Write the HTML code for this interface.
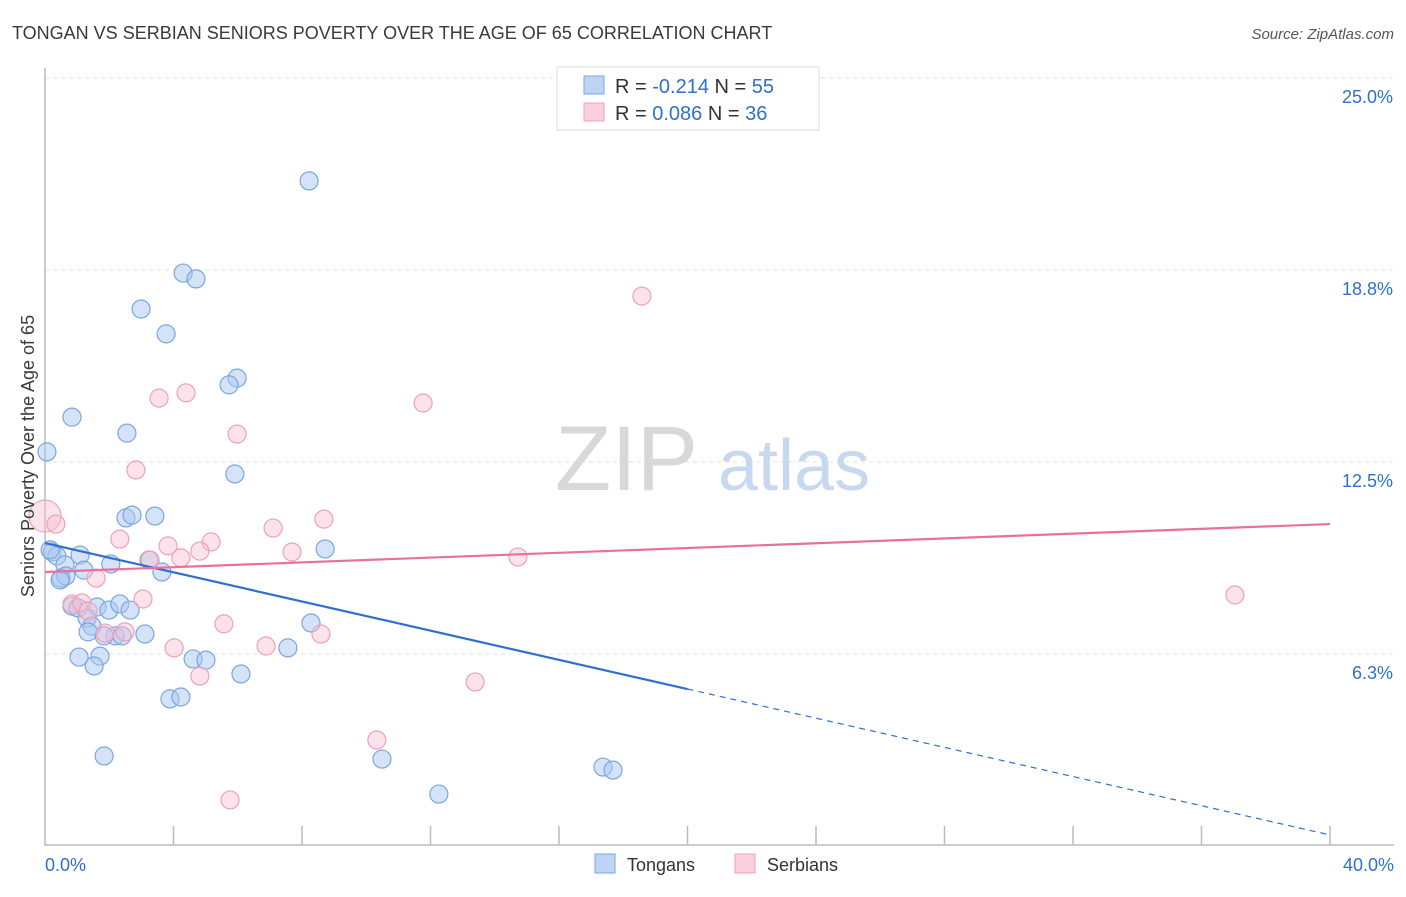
<!DOCTYPE html>
<html><head><meta charset="utf-8">
<style>
body{margin:0;background:#fff;font-family:"Liberation Sans",sans-serif;}
svg text{font-family:"Liberation Sans",sans-serif;}
</style></head>
<body>
<svg id="chart" width="1406" height="892" viewBox="0 0 1406 892" xmlns="http://www.w3.org/2000/svg">
<text x="12" y="39" font-size="18" fill="#3a3a3a">TONGAN VS SERBIAN SENIORS POVERTY OVER THE AGE OF 65 CORRELATION CHART</text>
<text x="1394" y="39" font-size="15" fill="#555" font-style="italic" text-anchor="end">Source: ZipAtlas.com</text>
<g id="grid"></g>
<g>
<text x="555" y="490" font-size="92" fill="#d8d8d8" font-family="Liberation Serif,serif">ZIP</text>
<text x="718" y="490" font-size="72" fill="#c8d8ee">atlas</text>
</g>
<g id="axes"></g>
<g id="points"></g>
<g id="trends"></g>
<text transform="translate(34,456) rotate(-90)" font-size="18" fill="#3a3a3a" text-anchor="middle">Seniors Poverty Over the Age of 65</text>
<g>
<rect x="557" y="67" width="262" height="63" fill="#fff" stroke="#ddd"/>
<rect x="584" y="76" width="20" height="18" fill="#bcd5f5" stroke="#7aa6e0"/>
<rect x="584" y="103" width="20" height="18" fill="#fbd0dd" stroke="#f0a0b8"/>
<text x="615" y="93" font-size="20" fill="#333">R = <tspan fill="#2f6fd0">-0.214</tspan>   N = <tspan fill="#2f6fd0">55</tspan></text>
<text x="615" y="120" font-size="20" fill="#333">R =  <tspan fill="#2f6fd0">0.086</tspan>   N = <tspan fill="#2f6fd0">36</tspan></text>
</g>
<g>
<rect x="595" y="854" width="20" height="19" fill="#bcd5f5" stroke="#7aa6e0"/>
<text x="627" y="871" font-size="18" fill="#333">Tongans</text>
<rect x="735" y="854" width="20" height="19" fill="#fbd0dd" stroke="#f0a0b8"/>
<text x="767" y="871" font-size="18" fill="#333">Serbians</text>
</g>
</svg>
<script>
const yTicks=[6.25,12.5,18.75,25];
const yTickLabels=["6.3%","12.5%","18.8%","25.0%"];
const xTickLabels=["0.0%","40.0%"];
const tonganX=[8.22,4.30,4.70,2.99,3.77,5.98,5.73,0.84,2.55,0.06,5.91,2.52,2.71,3.42,0.22,0.37,1.09,8.72,0.62,1.21,2.05,3.24,3.64,0.50,0.65,0.84,1.03,1.62,1.99,2.33,2.65,1.31,1.46,1.34,2.18,1.84,2.40,3.11,8.28,7.56,1.06,1.71,1.53,4.61,5.01,6.10,3.89,4.23,1.84,10.49,17.37,17.68,12.26,0.16,0.47];
const tonganY=[21.65,18.65,18.46,17.48,16.67,15.23,15.01,13.96,13.44,12.83,12.11,10.68,10.77,10.74,9.57,9.44,9.47,9.67,9.15,8.98,9.18,9.31,8.92,8.72,8.79,7.81,7.75,7.78,7.68,7.88,7.68,7.42,7.16,6.97,6.84,6.84,6.84,6.90,7.26,6.45,6.15,6.18,5.86,6.09,6.05,5.60,4.79,4.85,2.93,2.83,2.57,2.47,1.69,9.64,8.66];
const serbianX=[18.58,4.39,3.55,11.77,5.98,2.83,0,0.34,7.10,8.68,2.33,3.83,5.17,4.82,7.69,4.23,3.27,14.72,1.59,0.84,1.15,3.05,5.57,1.87,2.49,8.59,4.02,6.88,4.82,13.39,10.33,5.76,37.04,1.34];
const serbianY=[17.90,14.75,14.58,14.42,13.41,12.24,10.74,10.48,10.35,10.64,9.99,9.77,9.90,9.60,9.57,9.38,9.31,9.41,8.72,7.88,7.91,8.04,7.23,6.93,6.97,6.90,6.45,6.51,5.53,5.34,3.45,1.50,8.17,7.65];
const serbianR=[9,9,9,9,9,9,16,9,9,9,9,9,9,9,9,9,9,9,9,9,9,9,9,9,9,9,9,9,9,9,9,9,9,9];
const tonganTrend=[9.86,0.36];
const serbianTrend=[8.92,10.48];
const NS="http://www.w3.org/2000/svg";
const X0=45,X1=1330,Y0=846,YS=30.72;
const sx=v=>X0+(v/40)*(X1-X0);
const sy=v=>Y0-v*YS;
function mk(tag,attrs,parent){const e=document.createElementNS(NS,tag);for(const k in attrs)e.setAttribute(k,attrs[k]);parent.appendChild(e);return e;}
const grid=document.getElementById('grid'),axes=document.getElementById('axes'),pts=document.getElementById('points'),tr=document.getElementById('trends');
yTicks.forEach((t,i)=>{
 const l=mk('line',{x1:X0,x2:1394,y1:sy(t),y2:sy(t),stroke:'#e2e2e2','stroke-dasharray':'4,4'},grid);
 
 
 const tx=mk('text',{x:1393,y:sy(t)+25,'font-size':18,fill:'#2f6fd0','text-anchor':'end'},axes);
 tx.textContent=yTickLabels[i];
 
 
});
const ax=mk('path',{d:`M${X0} 68 V845 H1394`,stroke:'#bbb',fill:'none','stroke-width':1.5},axes);


for(let i=1;i<=10;i++){
 const t=mk('line',{x1:sx(i*4),x2:sx(i*4),y1:826,y2:845,stroke:'#bbb','stroke-width':1.5},axes);
 
 
}
[[0,'start',X0],[1,'end',1394]].forEach(([i,a,x])=>{
 const t=mk('text',{x:x,y:871,'font-size':18,fill:'#2f6fd0','text-anchor':a},axes);
 t.textContent=xTickLabels[i];
 
 
});
tonganX.forEach((x,i)=>{
 const c=mk('circle',{cx:sx(x),cy:sy(tonganY[i]),r:9,fill:'rgba(170,200,242,0.5)',stroke:'#7aa6e0','stroke-width':1.2},pts);
 
 
});
serbianX.forEach((x,i)=>{
 const c=mk('circle',{cx:sx(x),cy:sy(serbianY[i]),r:serbianR[i],fill:'rgba(248,190,208,0.45)',stroke:'#f0a0b8','stroke-width':1.2},pts);
 
 
});
const tm=(tonganTrend[0]+tonganTrend[1])/2;
const l1=mk('line',{x1:sx(0),y1:sy(tonganTrend[0]),x2:sx(20),y2:sy(tm),stroke:'#2f6fd0','stroke-width':2.2},tr);


const l2=mk('line',{x1:sx(20),y1:sy(tm),x2:sx(40),y2:sy(tonganTrend[1]),stroke:'#2f6fd0','stroke-width':1.2,'stroke-dasharray':'6,5'},tr);


const l3=mk('line',{x1:sx(0),y1:sy(serbianTrend[0]),x2:sx(40),y2:sy(serbianTrend[1]),stroke:'#e8709a','stroke-width':2.2},tr);


</script>
</body></html>
